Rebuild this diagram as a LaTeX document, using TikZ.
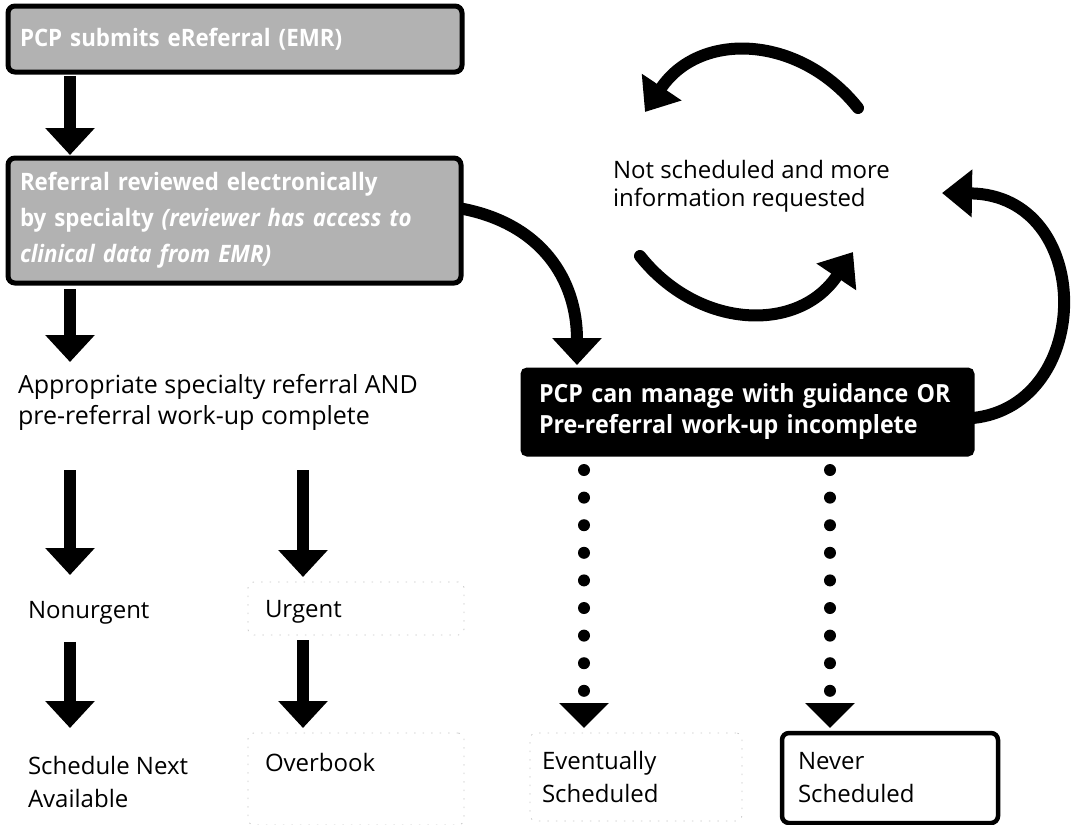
\documentclass[tikz,border=0pt]{standalone}
\usepackage{fontspec}
\setmainfont{Open Sans}
\newfontfamily\condbold{Open Sans}[FakeStretch=0.93]
\usetikzlibrary{arrows.meta}
\begin{document}
\begin{tikzpicture}[x=1pt,y=-1pt,
  every node/.style={inner sep=0pt, outer sep=0pt},
  graybox/.style={draw=black, line width=5pt, rounded corners=7pt, fill=gray!60,
    text=white, anchor=north west, align=left, inner xsep=12pt,
    font=\condbold\bfseries\fontsize{24}{36}\selectfont},
  blackbox/.style={draw=black, line width=3pt, rounded corners=5pt, fill=black,
    text=white, anchor=north west, align=left, inner xsep=17pt,
    font=\condbold\bfseries\fontsize{25}{31}\selectfont},
  plain/.style={anchor=north west, align=left, font=\fontsize{24}{33}\selectfont},
  faintbox/.style={draw=gray!45, line width=0.8pt, dash pattern=on 1.5pt off 7pt,
    rounded corners=6pt, anchor=north west, align=left,
    font=\fontsize{24}{33}\selectfont},
  finalbox/.style={draw=black, line width=4.5pt, rounded corners=7pt,
    anchor=north west, align=left, font=\fontsize{24}{33}\selectfont},
  bigarrow/.style={line width=12pt, -{Triangle[width=48pt,length=27pt]}},
  dotarrow/.style={line width=12pt, line cap=round, dash pattern=on 0pt off 27.6pt,
    -{Triangle[width=48pt,length=25pt]}},
  loopline/.style={line width=12pt, line cap=round, -{Triangle[width=46pt,length=30pt]}}
]
\useasboundingbox (0,0) rectangle (1080,825);

% --- left column: request and review ---
\node[graybox, minimum width=454pt, minimum height=66pt, text width=430pt] (submit) at (8,6)
  {PCP submits eReferral (EMR)};
\node[graybox, minimum width=453pt, minimum height=125pt, text width=429pt] (review) at (8,158)
  {Referral reviewed electronically\\ by specialty \textit{(reviewer has access to}\\ \textit{clinical data from EMR)}};

\node[plain, font=\fontsize{25}{31}\selectfont] (appr) at (18,374)
  {Appropriate specialty referral AND\\ pre-referral work-up complete};

\node[plain] (nonurg) at (28,601) {Nonurgent};
\node[faintbox, minimum width=199pt, minimum height=53pt, text width=182pt, inner xsep=17pt,
  text depth=0pt] (urg) at (248,582) {Urgent};

\node[plain] (next) at (28,756) {Schedule Next\\ Available};
\node[faintbox, minimum width=199pt, minimum height=92pt, text width=182pt, inner xsep=17pt]
  (over) at (248,733) {Overbook\\ \mbox{}};

% --- right column: returned requests ---
\node[blackbox, minimum width=451pt, minimum height=86pt, text width=417pt] (pcp) at (522,369)
  {PCP can manage with guidance OR\\ Pre-referral work-up incomplete};

\node[faintbox, minimum width=200pt, minimum height=88pt, text width=188pt, inner xsep=12pt]
  (event) at (530,733) {Eventually\\ Scheduled};
\node[finalbox, minimum width=200pt, minimum height=90pt, text width=184pt, inner xsep=16pt]
  (never) at (782,733) {Never\\ Scheduled};

\node[anchor=north west, align=left, font=\fontsize{24}{28}\selectfont] (loopnote) at (613,160)
  {Not scheduled and more\\ information requested};

% --- solid flow arrows ---
\draw[bigarrow, shorten <=4pt, shorten >=3pt]
  ([xshift=62pt]submit.south west) -- ([xshift=62pt]review.north west);
\draw[bigarrow, shorten <=6pt, shorten >=12pt]
  ([xshift=62pt]review.south west) -- ([xshift=62pt]review.south west |- appr.north);
\draw[bigarrow, shorten <=40pt, shorten >=26pt]
  ([xshift=52pt]appr.south west) -- ([xshift=52pt]appr.south west |- nonurg.north);
\draw[bigarrow, shorten <=40pt, shorten >=5pt]
  ([xshift=55pt]urg.north west |- appr.south) -- ([xshift=55pt]urg.north west);
\draw[bigarrow, shorten <=18pt, shorten >=28pt]
  ([xshift=42pt]nonurg.south west) -- ([xshift=42pt]nonurg.south west |- next.north);
\draw[bigarrow, shorten <=5pt, shorten >=5pt]
  ([xshift=55pt]urg.south west) -- ([xshift=55pt]over.north west);

% review -> returned to PCP
\draw[bigarrow, shorten >=4pt]
  ([yshift=12pt]review.east) .. controls +(80,15) and +(0,-90) .. ([xshift=55pt]pcp.north west);

% --- dotted outcomes ---
\draw[dotarrow, shorten <=15pt, shorten >=5pt]
  ([xshift=62pt]pcp.south west) -- ([xshift=54pt]event.north west);
\draw[dotarrow, shorten <=15pt, shorten >=5pt]
  ([xshift=308pt]pcp.south west) -- ([xshift=48pt]never.north west);

% --- loop of information requests ---
\coordinate (loopA) at (858,108);
\coordinate (loopB) at (645,112);
\coordinate (loopC) at (640,256);
\coordinate (loopD) at (853,252);
\coordinate (backtip) at (942,193);
\draw[loopline] (loopA) .. controls (800,35) and (700,30) .. (loopB);
\draw[loopline] (loopC) .. controls (698,329) and (798,334) .. (loopD);
\draw[loopline, line cap=butt]
  ([yshift=-6pt]pcp.east) .. controls (1095,405) and (1095,195) .. (backtip);
\end{tikzpicture}
\end{document}
